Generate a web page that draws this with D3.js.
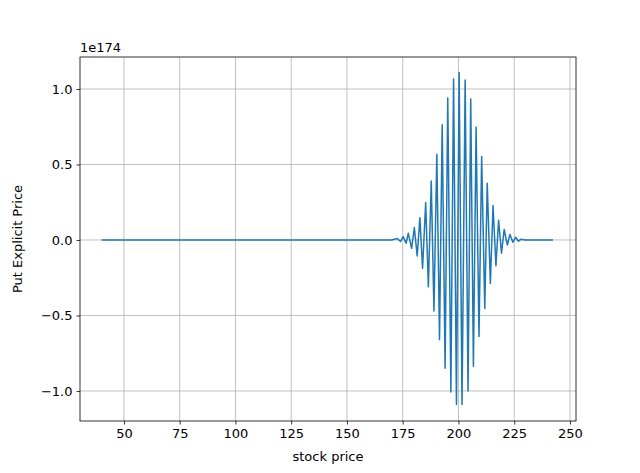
<!DOCTYPE html>
<html>
<head>
<meta charset="UTF-8">
<script src="https://d3js.org/d3.v7.min.js"></script>
<style>
  body { margin: 0; background: #fff; }
  text { font-family: "DejaVu Sans", sans-serif; }
</style>
</head>
<body>
<div id="chart"></div>
<script>
// stock price grid and put price (in units of 1e174)
const stockPrice = [40, 170, 172.6, 174.0, 175.2, 176.5, 177.5, 179.0, 180.2, 181.5, 182.7, 183.9,
  185.3, 186.5, 187.8, 189.0, 190.3, 191.5, 192.7, 194.0, 195.2, 196.6, 197.8, 199.1,
  200.3, 201.6, 203.0, 204.3, 205.5, 206.7, 207.9, 209.2, 210.4, 211.8, 212.9, 214.3,
  215.5, 216.8, 218.0, 219.3, 220.5, 221.9, 223.1, 224.4, 225.6, 226.9, 228.1, 230, 242.4];
const putPrice = [0, 0, 0.01, -0.01, 0.022, -0.022, 0.044, -0.055, 0.082, -0.106, 0.148, -0.188,
  0.248, -0.31, 0.39, -0.47, 0.568, -0.66, 0.763, -0.85, 0.94, -1.007, 1.066, -1.09,
  1.11, -1.09, 1.06, -1.0, 0.933, -0.836, 0.748, -0.64, 0.553, -0.454, 0.376, -0.288,
  0.228, -0.17, 0.13, -0.088, 0.07, -0.033, 0.037, -0.015, 0.018, -0.008, 0.005, 0, 0];
const xTicks = [50, 75, 100, 125, 150, 175, 200, 225, 250];
const yTicks = [-1.0, -0.5, 0.0, 0.5, 1.0];

const W = 640, H = 473;
const margin = {top: 57, right: 64, bottom: 52, left: 80};
const width = W - margin.left - margin.right,
      height = H - margin.top - margin.bottom;

const svg = d3.select("#chart").append("svg")
  .attr("width", W).attr("height", H);
const g = svg.append("g").attr("transform", `translate(${margin.left},${margin.top})`);

const x = d3.scaleLinear().domain([30.3, 252.7]).range([0, width]);
const y = d3.scaleLinear().domain([-1.199, 1.212]).range([height, 0]);

// grid
g.selectAll(".vg").data(xTicks).join("line")
  .attr("x1", d => x(d)).attr("x2", d => x(d)).attr("y1", 0).attr("y2", height)
  .attr("stroke", "#b0b0b0").attr("stroke-width", 0.8);
g.selectAll(".hg").data(yTicks).join("line")
  .attr("y1", d => y(d)).attr("y2", d => y(d)).attr("x1", 0).attr("x2", width)
  .attr("stroke", "#b0b0b0").attr("stroke-width", 0.8);

const fmt = d => d3.format(".1f")(d).replace("-", "\u2212");
const xa = g.append("g").attr("transform", `translate(0,${height})`)
  .call(d3.axisBottom(x).tickValues(xTicks).tickSize(3.5).tickPadding(4).tickFormat(d3.format("d")));
const ya = g.append("g")
  .call(d3.axisLeft(y).tickValues(yTicks).tickSize(3.5).tickPadding(4).tickFormat(fmt));
[xa, ya].forEach(a => {
  a.select(".domain").remove();
  a.selectAll("text").attr("font-size", "13px").attr("fill", "#000").attr("font-family", "DejaVu Sans");
  a.selectAll("line").attr("stroke", "#000").attr("stroke-width", 0.8);
});

// line
g.append("path")
  .datum(stockPrice.map((s, i) => [s, putPrice[i]]))
  .attr("fill", "none").attr("stroke", "#1f77b4").attr("stroke-width", 1.5)
  .attr("stroke-linejoin", "round")
  .attr("d", d3.line().x(d => x(d[0])).y(d => y(d[1])));

g.append("rect").attr("width", width).attr("height", height)
  .attr("fill", "none").attr("stroke", "#000").attr("stroke-width", 0.8);

g.append("text").attr("x", 0).attr("y", -5).attr("font-size", "13px").text("1e174");
g.append("text").attr("x", width / 2).attr("y", height + 40).attr("text-anchor", "middle")
  .attr("font-size", "13px").text("stock price");
g.append("text").attr("transform", `translate(${-58},${height / 2}) rotate(-90)`)
  .attr("text-anchor", "middle").attr("font-size", "13px").text("Put Explicit Price");
</script>
</body>
</html>
